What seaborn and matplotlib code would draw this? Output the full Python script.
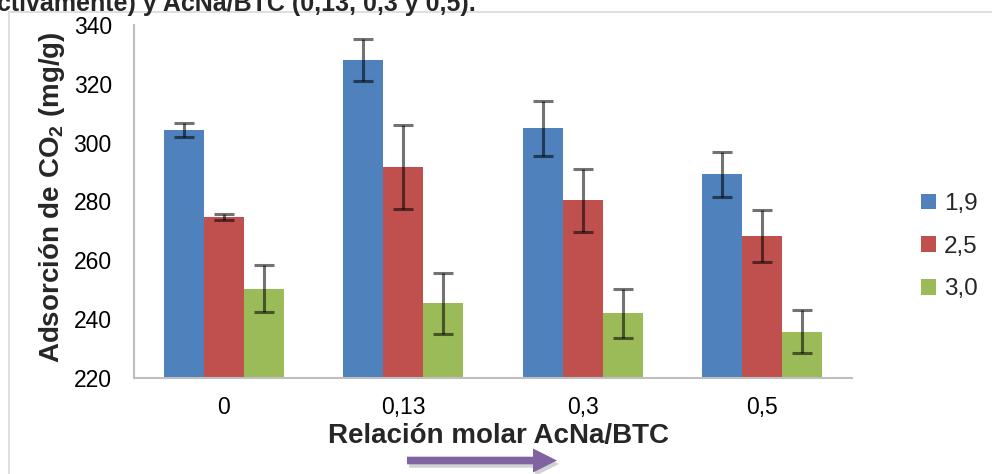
import matplotlib
matplotlib.use("Agg")
import matplotlib.pyplot as plt
import matplotlib.patheffects as pe
from matplotlib.patches import FancyArrow
from matplotlib.lines import Line2D
from matplotlib.transforms import IdentityTransform
import numpy as np
import pandas as pd
import seaborn as sns

# AcNa/BTC molar ratio groups and the three series
ratios = ["0", "0,13", "0,3", "0,5"]
series = ["1,9", "2,5", "3,0"]

# CO2 adsorption (mg/g) per series, one value per ratio
ads_19 = [304.3, 328.2, 304.9, 289.2]
ads_25 = [274.8, 291.7, 280.4, 268.4]
ads_30 = [250.4, 245.4, 242.0, 235.8]

# standard deviations
err_19 = [2.3, 7.2, 9.3, 7.7]
err_25 = [1.0, 14.3, 10.7, 8.8]
err_30 = [7.9, 10.4, 8.4, 7.3]

yticks = [220, 240, 260, 280, 300, 320, 340]
colors = ["#4F81BD", "#C0504D", "#9BBB59"]

df = pd.DataFrame({
    "ratio": ratios * 3,
    "serie": [s for s in series for _ in ratios],
    "ads": ads_19 + ads_25 + ads_30,
    "err": err_19 + err_25 + err_30,
})

sns.set_theme(style="white")
plt.rcParams["font.family"] = ["Liberation Sans", "DejaVu Sans"]
plt.rcParams["mathtext.fontset"] = "custom"
plt.rcParams["mathtext.rm"] = "Liberation Sans:bold"
plt.rcParams["mathtext.it"] = "Liberation Sans:bold"
plt.rcParams["mathtext.bf"] = "Liberation Sans:bold"

fig = plt.figure(figsize=(9.92, 4.74), dpi=100)
ax = fig.add_axes([134 / 992, 1 - 378 / 474, (852 - 134) / 992, (378 - 25) / 474])

sns.barplot(data=df, x="ratio", y="ads", hue="serie", order=ratios,
            hue_order=series, palette=colors, width=0.67, errorbar=None,
            linewidth=0, saturation=1, ax=ax)

# error bars on each bar centre
for cont, s in zip(ax.containers, series):
    sub = df[df["serie"] == s].set_index("ratio").loc[ratios]
    xs = [p.get_x() + p.get_width() / 2 for p in cont.patches]
    ax.errorbar(xs, sub["ads"].values, yerr=sub["err"].values, fmt="none",
                ecolor="black", alpha=0.55, elinewidth=2.2, capsize=7.5,
                capthick=2.2, zorder=5)

ax.set_ylim(220, 340)
ax.set_yticks(yticks)
ax.set_xlim(-0.5, 3.5)
ax.tick_params(axis="both", length=0, labelsize=16.5, colors="black")
ax.tick_params(axis="y", pad=16)
ax.tick_params(axis="x", pad=13)
for side in ["top", "right"]:
    ax.spines[side].set_visible(False)
for side in ["left", "bottom"]:
    ax.spines[side].set_color("#bfbfbf")
    ax.spines[side].set_linewidth(1.5)

ax.set_xlabel("Relación molar AcNa/BTC", fontsize=20, fontweight="bold")
ax.xaxis.set_label_coords((499 - 134) / (852 - 134), -(436 - 378) / (378 - 25))
ax.xaxis.label.set_va("center")
ax.set_ylabel(r"Adsorción de CO$_{2}$ (mg/g)", fontsize=20, fontweight="bold")
ax.yaxis.set_label_coords(-(134 - 52) / (852 - 134), (378 - 197.5) / (378 - 25))
ax.yaxis.label.set_va("center")

handles, labels = ax.get_legend_handles_labels()
leg = ax.legend(handles, labels, loc="center left",
                bbox_to_anchor=(921 / 992, 1 - 246.7 / 474),
                bbox_transform=fig.transFigure, frameon=False, fontsize=17.5,
                handlelength=0.6, handleheight=0.6, handletextpad=0.35,
                labelspacing=0.85, borderpad=0, borderaxespad=0)

# outer frame lines
fig.add_artist(Line2D([9 / 992, 9 / 992], [0, 1 - 12 / 474],
                      transform=fig.transFigure, color="#d9d9d9", lw=1.2))
fig.add_artist(Line2D([9 / 992, 1], [1 - 12 / 474, 1 - 12 / 474],
                      transform=fig.transFigure, color="#d9d9d9", lw=1.2))

# caption line running off the top edge
fig.text(-3 / 992, 1 - 10.5 / 474, "ctivamente) y AcNa/BTC (0,13, 0,3 y 0,5).",
         fontsize=18, fontweight="bold", ha="left", va="baseline")

# purple arrow below the axis title
arrow = FancyArrow(407, 474 - 460.5, 150, 0, width=7.6, head_width=24,
                   head_length=24, length_includes_head=True,
                   transform=IdentityTransform(), color="#8064A2", lw=0,
                   path_effects=[pe.SimplePatchShadow(offset=(1.5, -2.5),
                                                      shadow_rgbFace="#808080",
                                                      alpha=0.35),
                                 pe.Normal()])
fig.add_artist(arrow)

fig.savefig("out.png", dpi=100)
